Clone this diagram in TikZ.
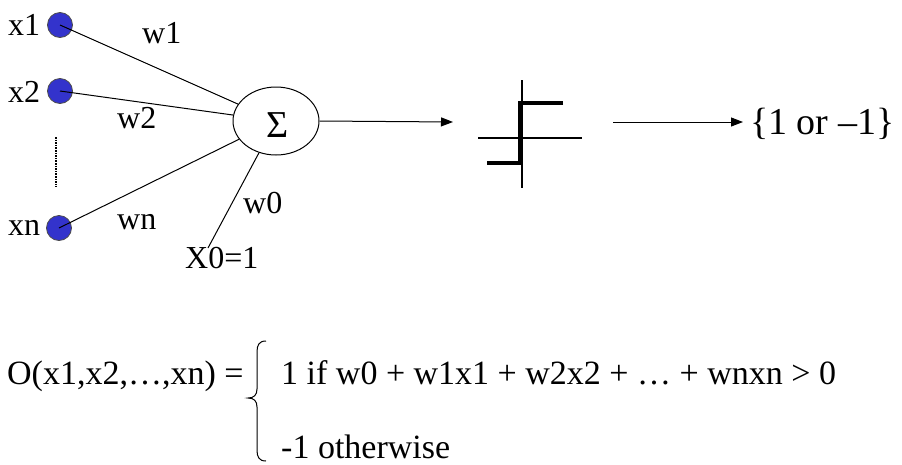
\documentclass[tikz,border=0pt]{standalone}
\usepackage{fontspec}
\setmainfont{LiberationSerif}[Extension=.ttf,UprightFont=*-Regular,BoldFont=*-Bold,ItalicFont=*-Italic]
\usetikzlibrary{arrows.meta,positioning,shapes.geometric}
\definecolor{inblue}{RGB}{51,51,204}
\begin{document}
\begin{tikzpicture}[
  x=1pt,y=-1pt,
  font=\fontsize{32}{38}\selectfont,
  input/.style={circle,fill=inblue,draw=black!70,line width=0.8pt,minimum size=25pt,inner sep=0pt},
  lbl/.style={inner sep=0pt,anchor=base west},
  eq/.style={lbl,font=\fontsize{34}{40}\selectfont},
  wire/.style={line width=1pt},
  sig/.style={-{Triangle[length=12pt,width=9pt]},line width=1pt},
  stepline/.style={line width=4.5pt},
]
  \useasboundingbox (0,0) rectangle (902,464);

  % inputs
  \node[input] (x1) at (60,25) {};
  \node[input] (x2) at (60,91) {};
  \node[input] (xn) at (59,228) {};
  \node[lbl] at (8,35) {x1};
  \node[lbl] at (8,102) {x2};
  \node[lbl] at (8,235) {xn};
  \draw[line width=1.6pt,dash pattern=on 1.6pt off 1pt] (56,137) -- (56,187);

  % summing unit
  \node[ellipse,draw,line width=1pt,minimum width=86pt,minimum height=68pt,inner sep=0pt] (sum) at (276,121) {};
  \node[inner sep=0pt,anchor=base,font=\fontsize{38}{44}\selectfont] at (278,137) {Σ};
  \coordinate (bias) at (208,248);

  \draw[wire] (x1.center) -- (sum);
  \draw[wire] (x2.center) -- (sum);
  \draw[wire] (xn.center) -- (sum);
  \draw[wire] (sum) -- (bias);

  % weights
  \node[lbl] at (142,43) {w1};
  \node[lbl] at (117,128) {w2};
  \node[lbl] at (117,229) {wn};
  \node[lbl] at (243,213) {w0};
  \node[lbl] at (185,268) {X0=1};

  % threshold unit
  \coordinate (stepin) at (453,122);
  \coordinate (stepout) at (613,122);
  \coordinate (outin) at (743,122);
  \draw[sig] (sum.east) -- (stepin);
  \draw[line width=1.2pt] (522,80) -- (522,188);
  \draw[line width=1.2pt] (478,138) -- (582,138);
  \draw[stepline] (563,103) -- (520,103) -- (520,163) -- (487,163);

  % output
  \node[inner sep=0pt,anchor=base west,font=\fontsize{38}{44}\selectfont] (out) at (750,134) {\{1 or –1\}};
  \draw[sig] (stepout) -- (outin);

  % output rule
  \node[eq] (rule) at (7,384) {O(x1,x2,…,xn) =};
  \draw[line width=1pt] (266,341) .. controls (259,341) and (257,345) .. (257,352) -- (257,389)
    .. controls (257,395) and (254,398) .. (248,398) .. controls (254,398) and (257,401) .. (257,407)
    -- (257,450) .. controls (257,457) and (259,461) .. (266,461);
  \node[eq] (pos) at (281,384) {1 if w0 + w1x1 + w2x2 + … + wnxn > 0};
  \node[eq] (neg) at (281,458) {-1 otherwise};
\end{tikzpicture}
\end{document}
